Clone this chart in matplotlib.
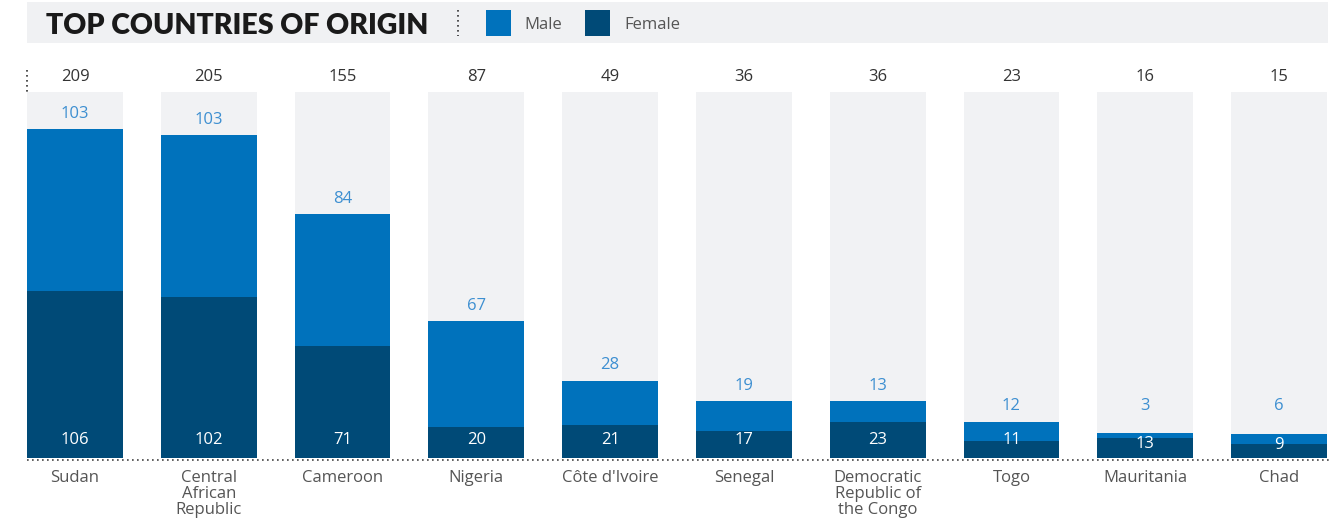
import matplotlib.pyplot as plt
from matplotlib.patches import Rectangle
from matplotlib.lines import Line2D

countries = ["Sudan", "Central\nAfrican\nRepublic", "Cameroon", "Nigeria", "Côte d'Ivoire",
             "Senegal", "Democratic\nRepublic of\nthe Congo", "Togo", "Mauritania", "Chad"]
female = [106, 102, 71, 20, 21, 17, 23, 11, 13, 9]
male = [103, 103, 84, 67, 28, 19, 13, 12, 3, 6]
totals = [209, 205, 155, 87, 49, 36, 36, 23, 16, 15]

C_MALE = "#0072bc"
C_FEMALE = "#004a77"
C_BG = "#f1f2f4"
C_MALE_TXT = "#3d8fd1"
C_TXT = "#333333"
C_LBL = "#555555"

plt.rcParams["font.family"] = ["Open Sans", "DejaVu Sans"]
FS = 12

W, H = 1342, 520
fig = plt.figure(figsize=(W / 100, H / 100), dpi=100)

# Header band with title and legend, in pixel coordinates
hdr = fig.add_axes([0, 0, 1, 1])
hdr.set_xlim(0, W)
hdr.set_ylim(H, 0)
hdr.axis("off")
hdr.add_patch(Rectangle((27, 2), 1301, 41, color="#f0f1f3", lw=0))
hdr.text(46, 26.5, "TOP COUNTRIES OF ORIGIN", fontsize=20.5, fontweight="heavy",
         color="#1a1a1a", va="center", ha="left", family=["Lato", "DejaVu Sans"])
hdr.add_line(Line2D([458, 458], [10, 36], color="#333333", lw=1.2,
                    linestyle=(0, (1, 2))))
hdr.add_patch(Rectangle((486, 10), 25, 26, color=C_MALE, lw=0))
hdr.text(524, 25, "Male", fontsize=FS, color=C_LBL, va="center")
hdr.add_patch(Rectangle((585, 10), 25, 26, color=C_FEMALE, lw=0))
hdr.text(624, 25, "Female", fontsize=FS, color=C_LBL, va="center")
# dotted marker above first column
hdr.add_line(Line2D([27, 27], [70, 92], color="#333333", lw=1.2,
                    linestyle=(0, (1, 2))))

# Bar chart
bw = 0.717
n = len(countries)
ymax = 232.5
left_px, right_px, base_px, top_px = 27, 1327, 458, 92
ax = fig.add_axes([left_px / W, (H - base_px) / H,
                   (right_px - left_px) / W, (base_px - top_px) / H])
ax.set_xlim(-bw / 2, n - 1 + bw / 2)
ax.set_ylim(0, ymax)
ax.axis("off")

x = list(range(n))
ax.bar(x, [ymax] * n, width=bw, color=C_BG, lw=0)
ax.bar(x, female, width=bw, color=C_FEMALE, lw=0)
ax.bar(x, male, width=bw, bottom=female, color=C_MALE, lw=0)

for i in x:
    tot = female[i] + male[i]
    ax.text(i, ymax + 9.3, str(totals[i]), ha="center", va="center",
            fontsize=FS, color=C_TXT, clip_on=False)
    ax.text(i, max(tot + 9.8, 33.0), str(male[i]), ha="center", va="center",
            fontsize=FS, color=C_MALE_TXT)
    ax.text(i, min(11.2, tot - 7.0), str(female[i]), ha="center", va="center",
            fontsize=FS, color="white")
    ax.text(i, -7.5, countries[i], ha="center", va="top", fontsize=FS,
            color=C_LBL, linespacing=1.02, clip_on=False)

# dotted baseline
ax.plot([-bw / 2, n - 1 + bw / 2 + 0.02], [-1.3, -1.3], color="#444444", lw=1.2,
        linestyle=(0, (1, 2)), clip_on=False)

fig.savefig("out.png", dpi=100)
